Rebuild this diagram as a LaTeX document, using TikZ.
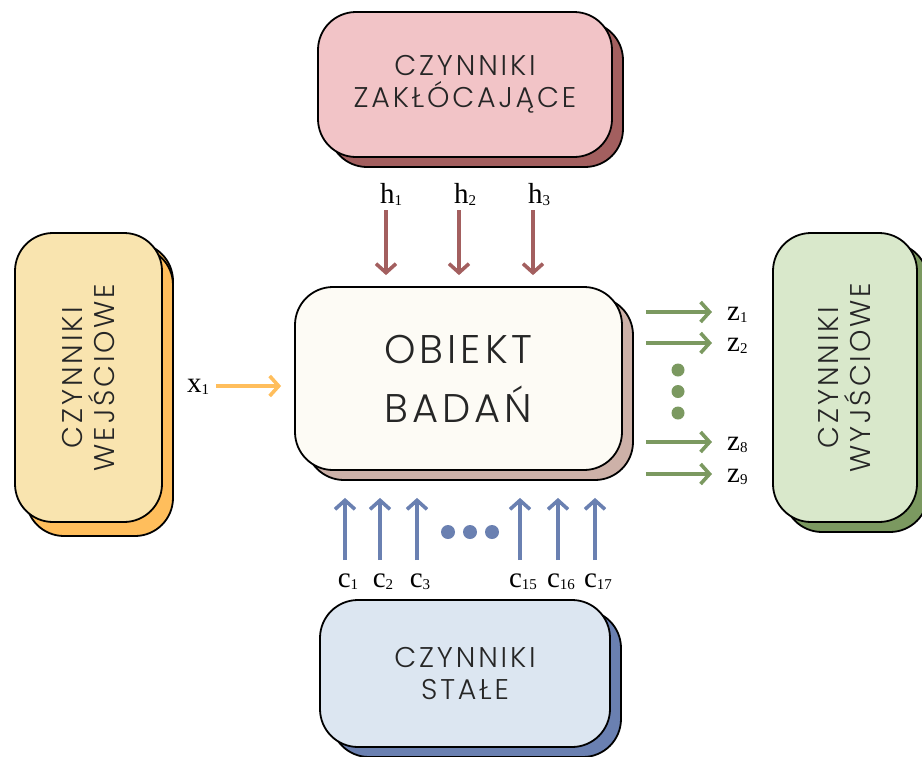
\documentclass[tikz,border=0pt]{standalone}
\usepackage{fontspec}
\setmainfont{Liberation Serif}
\newfontfamily\napisfont{Poppins Light}[LetterSpace=10]
\usepackage{tikz}
\usetikzlibrary{arrows.meta,shadows,calc}

\definecolor{napis}{HTML}{262626}
\definecolor{rozowy}{HTML}{F2C4C7}
\definecolor{rozowyC}{HTML}{A35F5F}
\definecolor{kremowy}{HTML}{FDFBF5}
\definecolor{kremowyC}{HTML}{CDB1A8}
\definecolor{niebieski}{HTML}{DCE6F1}
\definecolor{niebieskiC}{HTML}{6A80B1}
\definecolor{zolty}{HTML}{F9E4AF}
\definecolor{zoltyC}{HTML}{FFBE5C}
\definecolor{zielony}{HTML}{D9E8CB}
\definecolor{zielonyC}{HTML}{7B9960}

\newcommand\ind[1]{\raisebox{-2.5pt}{\fontsize{15}{15}\selectfont #1}}

\tikzset{
  czynnik/.style 2 args={draw=black, line width=1.8pt, rounded corners=38pt,
    inner sep=0pt, fill=#1, text=napis, align=center,
    font=\napisfont\fontsize{28.5}{32}\selectfont,
    general shadow={fill=#2, draw=black, shadow xshift=11pt, shadow yshift=-10pt}},
  pionowy/.style={rotate=90, text=napis, align=center,
    font=\napisfont\fontsize{28.5}{32}\selectfont},
  opis/.style={inner sep=0pt, font=\fontsize{29}{29}\selectfont},
  strzalka/.style={line width=3.6pt, draw=#1,
    -{Straight Barb[length=9pt,width=20pt]}},
}

\begin{document}
\begin{tikzpicture}[x=1pt,y=-1pt]
\useasboundingbox (0,0) rectangle (922,756);

\node[czynnik={rozowy}{rozowyC}, minimum width=294pt, minimum height=145pt]
  (zaklocajace) at (465,84.5) {CZYNNIKI\\ZAKŁÓCAJĄCE};
\node[czynnik={kremowy}{kremowyC}, minimum width=327pt, minimum height=183pt,
  font=\napisfont\fontsize{40}{59}\selectfont]
  (obiekt) at (458.5,378.5) {OBIEKT\\BADAŃ};
\node[czynnik={niebieski}{niebieskiC}, minimum width=290pt, minimum height=147pt]
  (stale) at (465,673.5) {CZYNNIKI\\STAŁE};
\node[czynnik={zolty}{zoltyC}, minimum width=147pt, minimum height=289pt,
  general shadow={fill=zoltyC, draw=black, shadow xshift=11pt, shadow yshift=-14pt},
  label={[pionowy]center:{CZYNNIKI\\WEJŚCIOWE}}]
  (wejsciowe) at (88.5,377.5) {};
\node[czynnik={zielony}{zielonyC}, minimum width=144pt, minimum height=289pt,
  label={[pionowy]center:{CZYNNIKI\\WYJŚCIOWE}}]
  (wyjsciowe) at (845,377.5) {};

% h
\node[opis, anchor=base] (h1) at (391,203) {h\ind{1}};
\node[opis, anchor=base] (h2) at (465,203) {h\ind{2}};
\node[opis, anchor=base] (h3) at (539,203) {h\ind{3}};
\draw[strzalka=rozowyC, shorten >=11pt] ([xshift=-5pt,yshift=-7pt]h1.base) -- ([xshift=-5pt]h1.base |- obiekt.north);
\draw[strzalka=rozowyC, shorten >=11pt] ([xshift=-6pt,yshift=-7pt]h2.base) -- ([xshift=-6pt]h2.base |- obiekt.north);
\draw[strzalka=rozowyC, shorten >=11pt] ([xshift=-6pt,yshift=-7pt]h3.base) -- ([xshift=-6pt]h3.base |- obiekt.north);

% x
\node[opis, anchor=base] (x1) at (198,392) {x\ind{1}};
\draw[strzalka=zoltyC, shorten <=7pt, shorten >=13pt] ([yshift=6pt]x1.base east) -- ([yshift=6pt]x1.base -| obiekt.west);

% z
\node[opis, anchor=base west] (z1) at (727,320) {z\ind{1}};
\node[opis, anchor=base west] (z2) at (727,351) {z\ind{2}};
\node[opis, anchor=base west] (z8) at (727,450) {z\ind{8}};
\node[opis, anchor=base west] (z9) at (727,482) {z\ind{9}};
\draw[strzalka=zielonyC, shorten <=23pt, shorten >=15pt] ([yshift=8pt]z1.base -| obiekt.east) -- ([yshift=8pt]z1.base west);
\draw[strzalka=zielonyC, shorten <=23pt, shorten >=15pt] ([yshift=8pt]z2.base -| obiekt.east) -- ([yshift=8pt]z2.base west);
\draw[strzalka=zielonyC, shorten <=23pt, shorten >=15pt] ([yshift=8pt]z8.base -| obiekt.east) -- ([yshift=8pt]z8.base west);
\draw[strzalka=zielonyC, shorten <=23pt, shorten >=15pt] ([yshift=8pt]z9.base -| obiekt.east) -- ([yshift=8pt]z9.base west);
\fill[zielonyC] (678,370) circle (6.5pt) (678,391.5) circle (6.5pt) (678,413) circle (6.5pt);

% c
\node[opis, anchor=base] (c1) at (348,587) {c\ind{1}};
\node[opis, anchor=base] (c2) at (383,587) {c\ind{2}};
\node[opis, anchor=base] (c3) at (420,587) {c\ind{3}};
\node[opis, anchor=base] (c15) at (523,587) {c\ind{15}};
\node[opis, anchor=base] (c16) at (561,587) {c\ind{16}};
\node[opis, anchor=base] (c17) at (598,587) {c\ind{17}};
\foreach \c in {c1,c2,c3,c15,c16,c17}
  \draw[strzalka=niebieskiC, shorten >=27pt] ([xshift=-3pt,yshift=27pt]\c.base) -- ([xshift=-3pt]\c.base |- obiekt.south);
\fill[niebieskiC] (448,532) circle (7pt) (470,532) circle (7pt) (492,532) circle (7pt);
\end{tikzpicture}
\end{document}
